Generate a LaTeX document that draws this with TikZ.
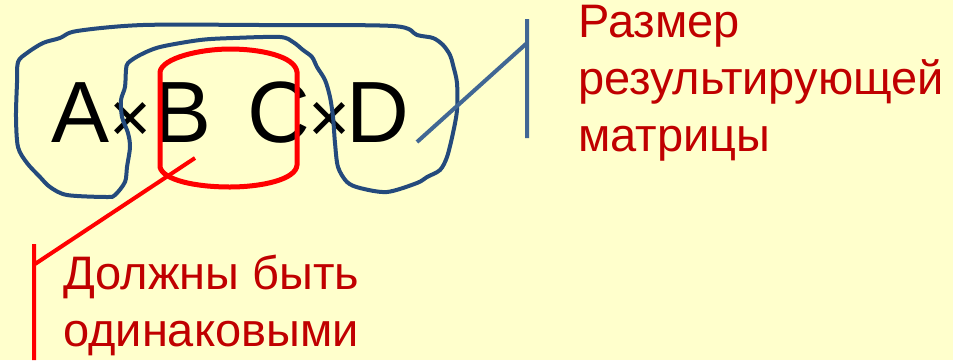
\documentclass[tikz,border=0pt]{standalone}
\usepackage{fontspec}
\setmainfont{Liberation Sans}
\usepackage{tikz}
\usetikzlibrary{calc, positioning}
\definecolor{paper}{RGB}{255,255,204}
\definecolor{inkblue}{RGB}{36,74,124}
\definecolor{pointblue}{RGB}{65,103,148}
\definecolor{labelred}{RGB}{192,0,0}
\tikzstyle{letter}=[inner sep=0pt, anchor=base, font=\fontsize{87}{90}\selectfont]
\tikzstyle{timessign}=[inner sep=0pt, anchor=base, font=\fontsize{72}{80}\selectfont]
\tikzstyle{note}=[inner sep=0pt, anchor=base west, align=left, text=labelred, font=\fontsize{47}{57}\selectfont]
\tikzstyle{loop}=[draw=inkblue, line width=4pt, line join=round]
\tikzstyle{barrel}=[draw=red, line width=5pt]

\begin{document}
\begin{tikzpicture}[x=1pt, y=-1pt]
\fill [paper] (0,0) rectangle (953,360);
\useasboundingbox (0,0) rectangle (953,360);
% the product
\node [letter] (matA) at (81,142){A};
\node [timessign] (timesAB) at (131,142){×};
\node [letter] (matB) at (183,142){B};
\node [letter] (matC) at (279,142){C};
\node [timessign] (timesCD) at (330,142){×};
\node [letter] (matD) at (378,142){D};
% outer dimensions
\draw [loop] plot [smooth cycle, tension=0.5] coordinates {(77,31)(143,25)(260,25)(393,26)(417,35)(433,38)(443,45)(450,55)(453,65)(457,83)(457,110)(453,133)(447,157)(440,170)(427,177)(417,183)(387,192)(360,188)(347,182)(338,167)(335,143)(333,117)(330,97)(325,80)(317,67)(312,57)(303,50)(293,42)(280,37)(233,38)(200,40)(160,47)(140,55)(128,63)(126,70)(125,87)(121,100)(122,117)(128,133)(130,147)(127,167)(125,182)(115,195)(107,197)(67,195)(50,187)(40,177)(27,163)(18,147)(16,117)(17,83)(18,62)(27,53)(43,43)(60,38)};
% inner dimensions
\draw [barrel] (160,167) -- (160,72) .. controls (162,58) and (200,49) .. (230,49) .. controls (260,49) and (295,56) .. (297,72) -- (297,165) .. controls (296,180) and (260,187) .. (230,187) .. controls (195,187) and (163,180) .. cycle;
% labels (base = last line)
\node [note] (sizelbl) at (578,151){Размер\\результирующей\\матрицы};
\node [note] (samelbl) at (63,346){Должны быть\\одинаковыми};
\coordinate (sizetip) at (417,142);
\coordinate (sizeknee) at (527,43);
\coordinate (sizetop) at (527,19);
\coordinate (sizebot) at (527,138);
\draw [pointblue, line width=4pt] (sizetip) -- (sizeknee) (sizetop) -- (sizebot);
\coordinate (sametip) at (195,158);
\coordinate (sameknee) at (35,264);
\coordinate (sametop) at (34,244);
\coordinate (samebot) at (34,360);
\draw [red, line width=4pt] (sametip) -- (sameknee) (sametop) -- (samebot);
\end{tikzpicture}
\end{document}
